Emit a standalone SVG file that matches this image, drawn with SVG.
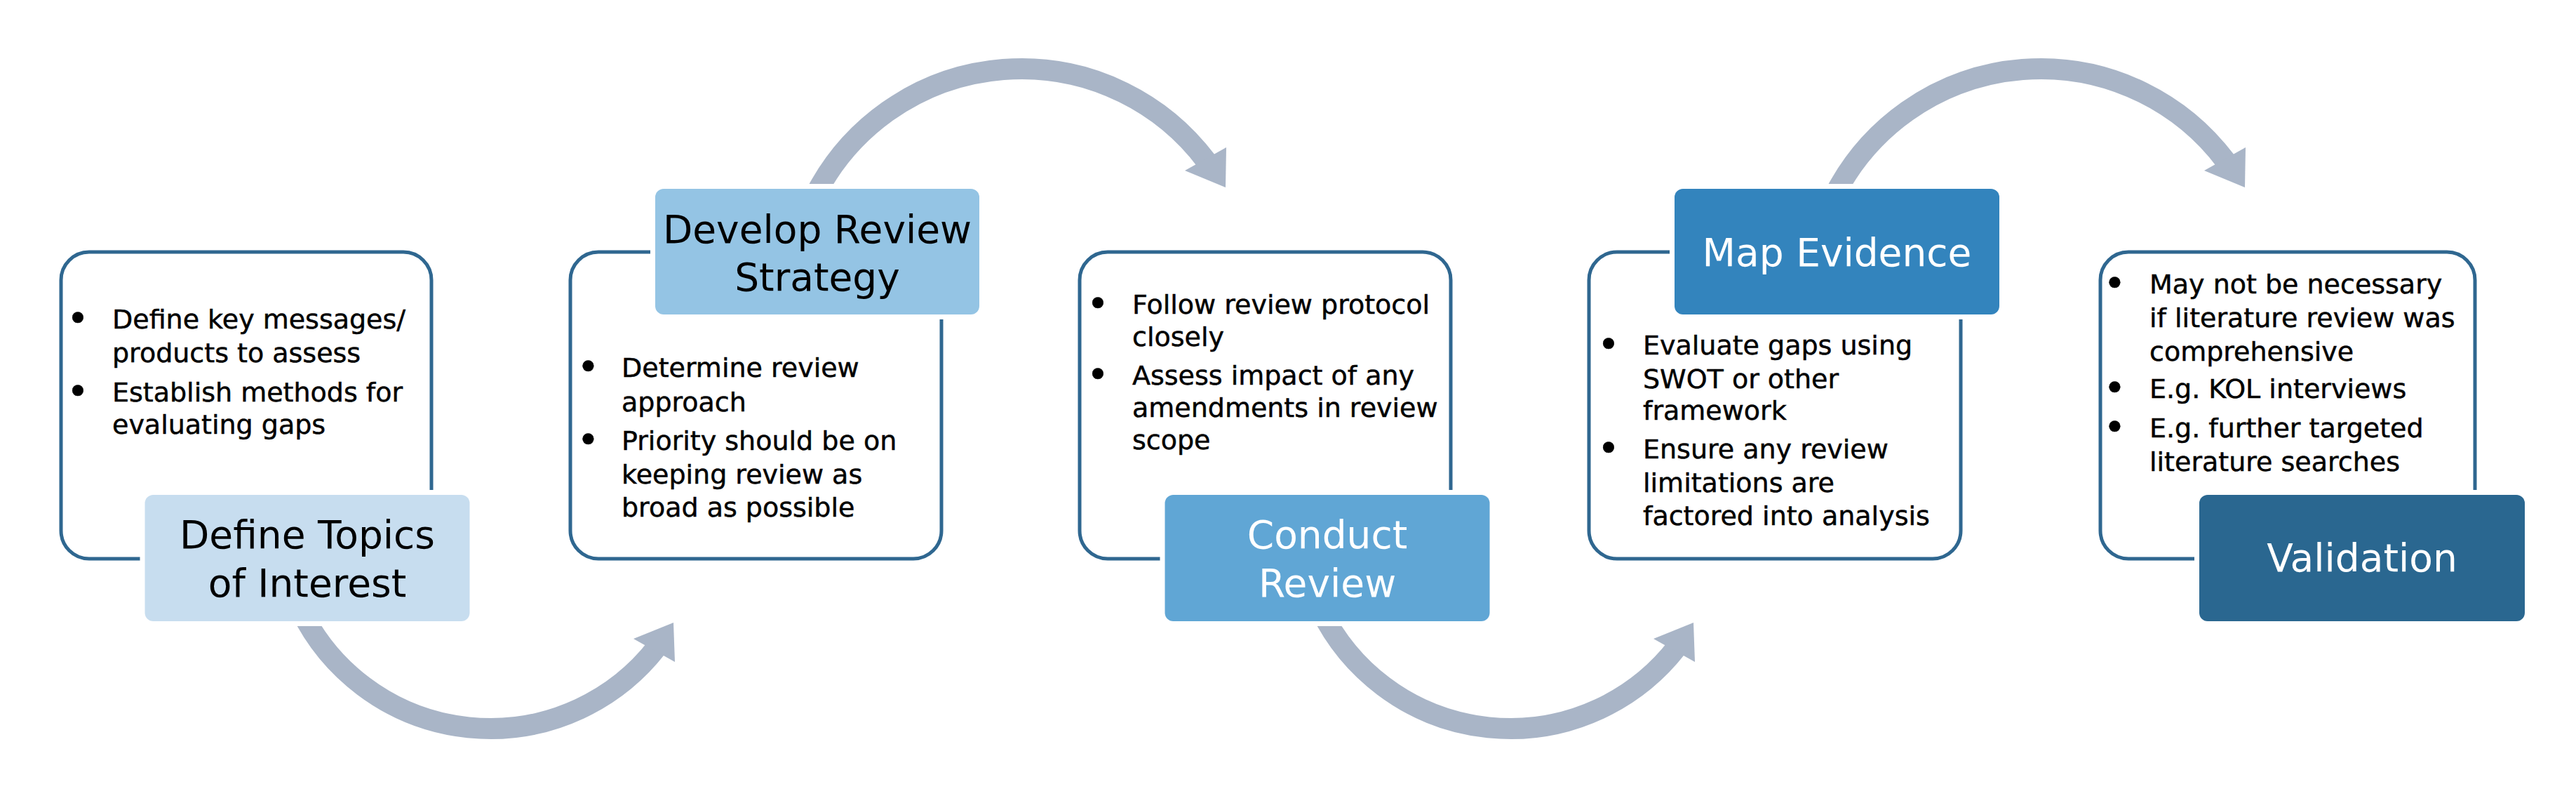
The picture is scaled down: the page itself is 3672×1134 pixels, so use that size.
<svg xmlns="http://www.w3.org/2000/svg" width="3672" height="1134" viewBox="0 0 3672 1134">
<style>
.bg{fill:#fff}
.box{fill:#fff;stroke:#2f6790;stroke-width:5}
.lbl{stroke:#fff;stroke-width:14;paint-order:stroke}
.t{font-family:'DejaVu Sans',sans-serif;font-size:38px;fill:#000;stroke:#000;stroke-width:0.5}
.b{text-anchor:middle;font-size:54px}
.h{font-family:'DejaVu Sans',sans-serif;font-size:55px;text-anchor:middle;fill:#000}
.w{fill:#fff}
.arc{fill:none;stroke:#a9b5c7;stroke-width:30}
.head{fill:#a9b5c7}
</style>
<rect class="bg" x="0" y="0" width="3672" height="1134"/>
<g id="connectors">
  <g id="arrow-1-2">
    <path class="arc" d="M 428.5 869 A 301 301 0 0 0 936.2 922.3"/>
    <polygon class="head" points="960,887 903,910 962,943"/>
  </g>
  <g id="arrow-2-3">
    <path class="arc" d="M 1164.6 273.1 A 330 330 0 0 1 1719.5 229.4"/>
    <polygon class="head" points="1747,267 1689,243 1748,210"/>
  </g>
  <g id="arrow-3-4" transform="translate(1454,0)">
    <path class="arc" d="M 428.5 869 A 301 301 0 0 0 936.2 922.3"/>
    <polygon class="head" points="960,887 903,910 962,943"/>
  </g>
  <g id="arrow-4-5" transform="translate(1453,0)">
    <path class="arc" d="M 1164.6 273.1 A 330 330 0 0 1 1719.5 229.4"/>
    <polygon class="head" points="1747,267 1689,243 1748,210"/>
  </g>
</g>
<g id="node-define-topics">
  <rect class="box" x="87" y="359" width="528" height="437" rx="40"/>
  <text class="t b" x="111" y="472">•</text>
  <text class="t" x="160" y="468">Define key messages/</text>
  <text class="t" x="160" y="516">products to assess</text>
  <text class="t b" x="111" y="576">•</text>
  <text class="t" x="160" y="572">Establish methods for</text>
  <text class="t" x="160" y="618">evaluating gaps</text>
  <rect class="lbl" x="206.5" y="705" width="463" height="180" rx="12" fill="#c7ddef"/>
  <text class="h" x="438" y="781">Define Topics</text>
  <text class="h" x="438" y="850">of Interest</text>
</g>
<g id="node-develop-strategy">
  <rect class="box" x="813" y="359" width="529" height="437" rx="40"/>
  <text class="t b" x="838.5" y="541">•</text>
  <text class="t" x="886" y="537">Determine review</text>
  <text class="t" x="886" y="586">approach</text>
  <text class="t b" x="838.5" y="645">•</text>
  <text class="t" x="886" y="641">Priority should be on</text>
  <text class="t" x="886" y="689">keeping review as</text>
  <text class="t" x="886" y="736">broad as possible</text>
  <rect class="lbl" x="934" y="269" width="462" height="179" rx="12" fill="#94c4e4"/>
  <text class="h" x="1165" y="346">Develop Review</text>
  <text class="h" x="1165" y="414">Strategy</text>
</g>
<g id="node-conduct-review">
  <rect class="box" x="1539" y="359" width="529" height="437" rx="40"/>
  <text class="t b" x="1565" y="451">•</text>
  <text class="t" x="1614" y="447">Follow review protocol</text>
  <text class="t" x="1614" y="493">closely</text>
  <text class="t b" x="1565" y="552">•</text>
  <text class="t" x="1614" y="548">Assess impact of any</text>
  <text class="t" x="1614" y="594">amendments in review</text>
  <text class="t" x="1614" y="640">scope</text>
  <rect class="lbl" x="1660.5" y="705" width="463" height="180" rx="12" fill="#60a6d5"/>
  <text class="h w" x="1892" y="781">Conduct</text>
  <text class="h w" x="1892" y="850">Review</text>
</g>
<g id="node-map-evidence">
  <rect class="box" x="2265" y="359" width="530" height="437" rx="40"/>
  <text class="t b" x="2293" y="509">•</text>
  <text class="t" x="2342" y="505">Evaluate gaps using</text>
  <text class="t" x="2342" y="553">SWOT or other</text>
  <text class="t" x="2342" y="598">framework</text>
  <text class="t b" x="2293" y="657">•</text>
  <text class="t" x="2342" y="653">Ensure any review</text>
  <text class="t" x="2342" y="701">limitations are</text>
  <text class="t" x="2342" y="748">factored into analysis</text>
  <rect class="lbl" x="2387" y="269" width="463" height="179" rx="12" fill="#3384bd"/>
  <text class="h w" x="2618.5" y="379">Map Evidence</text>
</g>
<g id="node-validation">
  <rect class="box" x="2994" y="359" width="534" height="437" rx="40"/>
  <text class="t b" x="3014.5" y="422">•</text>
  <text class="t" x="3064" y="418">May not be necessary</text>
  <text class="t" x="3064" y="466">if literature review was</text>
  <text class="t" x="3064" y="514">comprehensive</text>
  <text class="t b" x="3014.5" y="571">•</text>
  <text class="t" x="3064" y="567">E.g. KOL interviews</text>
  <text class="t b" x="3014.5" y="627">•</text>
  <text class="t" x="3064" y="623">E.g. further targeted</text>
  <text class="t" x="3064" y="671">literature searches</text>
  <rect class="lbl" x="3135" y="705" width="464" height="180" rx="12" fill="#2a6790"/>
  <text class="h w" x="3367" y="814">Validation</text>
</g>
</svg>
